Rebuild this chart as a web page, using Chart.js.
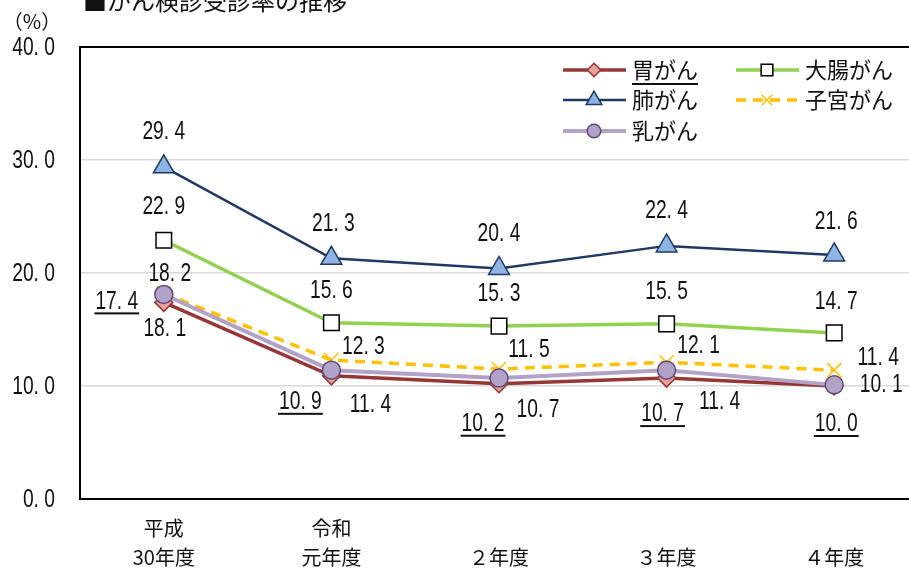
<!DOCTYPE html>
<html>
<head>
<meta charset="utf-8">
<script src="https://cdn.jsdelivr.net/npm/chart.js@4/dist/chart.umd.min.js"></script>
<style>
  html, body { margin: 0; padding: 0; background: #fff; overflow: hidden; }
  #wrap { width: 909px; height: 571px; overflow: hidden; }
  #examChart { display: block; }
</style>
</head>
<body>
<div id="wrap"><canvas id="examChart" width="918" height="571"></canvas></div>
<script>
const categories = [['平成', '30年度'], ['令和', '元年度'], ['', '２年度'], ['', '３年度'], ['', '４年度']];
const stomach = [17.4, 10.9, 10.2, 10.7, 10.0];
const lung = [29.4, 21.3, 20.4, 22.4, 21.6];
const colon = [22.9, 15.6, 15.3, 15.5, 14.7];
const uterus = [18.2, 12.3, 11.5, 12.1, 11.4];
const breast = [18.1, 11.4, 10.7, 11.4, 10.1];
const seriesNames = ['胃がん', '肺がん', '乳がん', '大腸がん', '子宮がん'];
const yTickLabels = ['0. 0', '10. 0', '20. 0', '30. 0', '40. 0'];

const numFont = "26px 'Liberation Sans', sans-serif";
const jpFont = "'Noto Sans CJK JP', sans-serif";
const squeeze = 0.74; // numbers in the original are a narrow face

// where each value label sits relative to its point (dx, dy)
const labelOffsets = {
  '胃がん': [[-47, -1], [-31, 26], [-16, 40], [-4, 36], [2, 38]],
  '肺がん': [[0, -35], [2, -34], [0, -35], [0, -35], [2, -33]],
  '大腸がん': [[0, -33], [0, -32], [0, -32], [0, -32], [2, -31]],
  '子宮がん': [[6, -20], [32, -13], [30, -19], [32, -16], [44, -12]],
  '乳がん': [[1, 34], [39, 35], [39, 32], [53, 32], [47, 0]]
};

const fmt = v => v.toFixed(1).replace('.', '. ');

function narrowText(ctx, txt, x, y, align) {
  ctx.save();
  ctx.translate(x, y);
  ctx.scale(squeeze, 1);
  ctx.textAlign = align;
  ctx.fillText(txt, 0, 0);
  ctx.restore();
  return ctx.measureText(txt).width * squeeze;
}

const valueLabels = {
  id: 'valueLabels',
  afterDatasetsDraw(chart) {
    const ctx = chart.ctx;
    ctx.save();
    ctx.font = numFont;
    ctx.fillStyle = '#111';
    ctx.textBaseline = 'middle';
    chart.data.datasets.forEach((ds, i) => {
      const meta = chart.getDatasetMeta(i);
      const offs = labelOffsets[ds.label];
      meta.data.forEach((pt, j) => {
        const x = pt.x + offs[j][0];
        const y = pt.y + offs[j][1];
        const txt = fmt(ds.data[j]);
        const w = narrowText(ctx, txt, x, y, 'center');
        if (ds.label === '胃がん') {
          ctx.fillRect(x - w / 2 - 1, y + 11, w + 2, 2);
        }
      });
    });
    // y tick labels, placed on the library's own tick positions
    const ys = chart.scales.y;
    ys.ticks.forEach((t, i) => {
      narrowText(ctx, yTickLabels[i], 55, ys.getPixelForTick(i) + 1, 'right');
    });
    ctx.restore();
  }
};

const extras = {
  id: 'extras',
  afterDraw(chart) {
    const ctx = chart.ctx;
    ctx.save();
    ctx.fillStyle = '#111';
    ctx.textBaseline = 'middle';
    ctx.font = '24px ' + jpFont;
    ctx.textAlign = 'left';
    ctx.fillText('■がん検診受診率の推移', 83, 1);
    ctx.font = '20px ' + jpFont;
    ctx.textAlign = 'center';
    ctx.fillText('（%）', 32, 21);

    // legend
    const cols = [563, 736];
    const rows = [70, 100, 131];
    const spots = { '胃がん': [0, 0], '大腸がん': [1, 0], '肺がん': [0, 1], '子宮がん': [1, 1], '乳がん': [0, 2] };
    chart.data.datasets.forEach(ds => {
      const [c, r] = spots[ds.label];
      const x0 = cols[c], y = rows[r];
      ctx.save();
      ctx.strokeStyle = ds.borderColor;
      ctx.lineWidth = ds.borderWidth;
      ctx.setLineDash(ds.borderDash || []);
      ctx.beginPath();
      ctx.moveTo(x0, y);
      ctx.lineTo(x0 + 63, y);
      ctx.stroke();
      ctx.restore();
      if (Chart.helpers && Chart.helpers.drawPoint) {
        ctx.save();
        ctx.fillStyle = ds.pointBackgroundColor;
        ctx.strokeStyle = ds.pointBorderColor;
        ctx.lineWidth = ds.pointBorderWidth;
        Chart.helpers.drawPoint(ctx, { pointStyle: ds.pointStyle, radius: ds.pointRadius * 0.75, rotation: 0, borderWidth: ds.pointBorderWidth }, x0 + 31, y);
        ctx.restore();
      }
      ctx.font = '22px ' + jpFont;
      ctx.textAlign = 'left';
      ctx.fillStyle = '#111';
      ctx.fillText(ds.label, x0 + 69, y);
      if (ds.label === '胃がん') {
        const w = ctx.measureText(ds.label).width;
        ctx.fillRect(x0 + 69, y + 13, w, 2);
      }
    });
    ctx.restore();
  }
};

const ctx = document.getElementById('examChart').getContext('2d');
const examChart = new Chart(ctx, {
  type: 'line',
  data: {
    labels: categories,
    datasets: [{
      label: seriesNames[2],
      data: breast,
      borderColor: '#b3a2c7',
      borderWidth: 4,
      pointStyle: 'circle',
      pointRadius: 9,
      pointBackgroundColor: '#b3a2c7',
      pointBorderColor: '#5f497a',
      pointBorderWidth: 1.5,
      order: 0
    }, {
      label: seriesNames[4],
      data: uterus,
      borderColor: '#ffc000',
      borderWidth: 3.5,
      borderDash: [10, 7],
      pointStyle: 'crossRot',
      pointRadius: 10,
      pointBackgroundColor: '#ffc000',
      pointBorderColor: '#ffc000',
      pointBorderWidth: 1.5,
      order: 1
    }, {
      label: seriesNames[3],
      data: colon,
      borderColor: '#92d050',
      borderWidth: 3.5,
      pointStyle: 'rect',
      pointRadius: 11,
      pointBackgroundColor: '#ffffff',
      pointBorderColor: '#000000',
      pointBorderWidth: 1.5,
      order: 2
    }, {
      label: seriesNames[1],
      data: lung,
      borderColor: '#1f3864',
      borderWidth: 2.5,
      pointStyle: 'triangle',
      pointRadius: 12,
      pointBackgroundColor: '#8eb4e3',
      pointBorderColor: '#1f3864',
      pointBorderWidth: 1.5,
      order: 3
    }, {
      label: seriesNames[0],
      data: stomach,
      borderColor: '#953735',
      borderWidth: 3.5,
      pointStyle: 'rectRot',
      pointRadius: 9,
      pointBackgroundColor: '#e6a09e',
      pointBorderColor: '#953735',
      pointBorderWidth: 1.5,
      order: 4
    }]
  },
  options: {
    responsive: false,
    animation: false,
    // plot area runs a little past the right edge (canvas is clipped by #wrap)
    layout: { autoPadding: false, padding: { top: 47, left: 0, right: 0, bottom: 0 } },
    plugins: {
      legend: { display: false },
      tooltip: { enabled: false }
    },
    elements: { line: { tension: 0 } },
    scales: {
      x: {
        offset: true,
        grid: { display: false, drawTicks: false },
        border: { display: true, color: '#000', width: 2 },
        ticks: {
          color: '#111',
          font: { family: jpFont, size: 20, lineHeight: 1.45 },
          padding: 15,
          maxRotation: 0,
          autoSkip: false
        },
        afterFit: s => { s.height = 72; }
      },
      y: {
        min: 0,
        max: 40,
        grid: {
          drawTicks: false,
          color: c => c.tick && c.tick.value === 40 ? '#000' : '#d9d9d9',
          lineWidth: c => c.tick && c.tick.value === 40 ? 2 : 1.5
        },
        border: { display: true, color: '#000', width: 2 },
        ticks: {
          stepSize: 10,
          color: 'rgba(0,0,0,0)',
          padding: 26,
          font: { size: 20 }
        },
        afterFit: s => { s.width = 80; }
      }
    }
  },
  plugins: [valueLabels, extras]
});
</script>
</body>
</html>
